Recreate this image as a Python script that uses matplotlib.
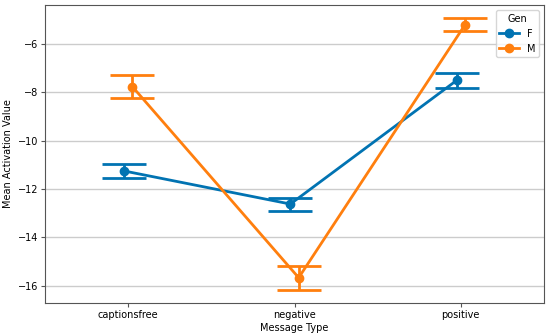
import matplotlib
matplotlib.use("Agg")
import matplotlib.pyplot as plt
from matplotlib.lines import Line2D
import numpy as np

categories = ["captionsfree", "negative", "positive"]
genders = ["F", "M"]
means_F = [-11.25, -12.62, -7.50]
lo_F = [-11.53, -12.89, -7.80]
hi_F = [-10.95, -12.35, -7.18]
means_M = [-7.76, -15.67, -5.20]
lo_M = [-8.24, -16.17, -5.47]
hi_M = [-7.27, -15.19, -4.93]
colors = ["#0173b2", "#ff7f0e"]

plt.rcParams["font.size"] = 7
fig = plt.figure(figsize=(5.5, 3.36), dpi=100)
ax = fig.add_axes([0.082, 0.098, 0.907, 0.887])

x = np.arange(len(categories))
offsets = [-0.025, 0.025]
series = [(means_F, lo_F, hi_F), (means_M, lo_M, hi_M)]
handles = []
for g, (m, lo, hi), c, off in zip(genders, series, colors, offsets):
    m = np.array(m); lo = np.array(lo); hi = np.array(hi)
    ax.errorbar(x + off, m, yerr=[m - lo, hi - m], color=c, lw=2,
                marker="o", markersize=6, capsize=15.5, capthick=2,
                elinewidth=2)
    handles.append(Line2D([], [], color=c, lw=2, marker="o", markersize=6, label=g))

ax.set_xticks(x)
ax.set_xticklabels(categories)
ax.set_xlim(-0.5, 2.5)
ax.set_ylim(-16.72, -4.38)
ax.set_yticks([-16, -14, -12, -10, -8, -6])
ax.set_yticklabels(["\u221216", "\u221214", "\u221212", "\u221210", "\u22128", "\u22126"])
ax.tick_params(axis="both", length=3, pad=2, color="#555555")
ax.yaxis.grid(True, color="#cccccc", lw=1)
ax.set_axisbelow(True)
ax.set_xlabel("Message Type", labelpad=2)
ax.set_ylabel("Mean Activation Value", labelpad=3)
for s in ax.spines.values():
    s.set_color("#555555")
ax.legend(handles=handles, title="Gen", loc="upper right", fontsize=7, title_fontsize=7)

fig.savefig("out.png", dpi=100)
